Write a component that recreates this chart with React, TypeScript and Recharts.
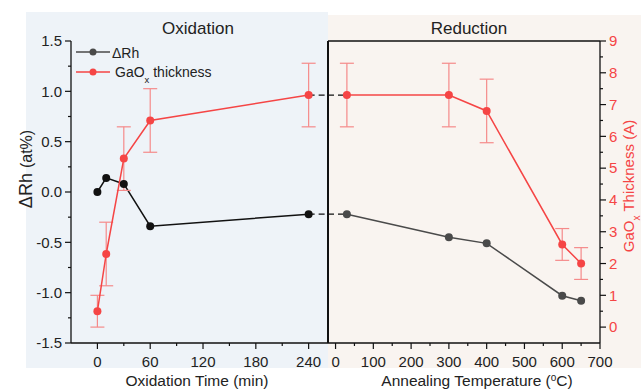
import React from 'react';
import { ComposedChart, Line, XAxis, YAxis, ErrorBar, ReferenceLine } from 'recharts';

// oxidation series (left panel)
const oxTime = [0, 10, 30, 60, 240];
const oxRh = [0.0, 0.14, 0.08, -0.34, -0.22];
const oxThick = [0.5, 2.3, 5.3, 6.5, 7.3];
const oxThickErr = [0.5, 1.0, 1.0, 1.0, 1.0];

// reduction series (right panel)
const anTemp = [30, 300, 400, 600, 650];
const anRh = [-0.22, -0.45, -0.51, -1.03, -1.08];
const anThick = [7.3, 7.3, 6.8, 2.6, 2.0];
const anThickErr = [1.0, 1.0, 1.0, 0.5, 0.5];

// ticks
const oxTicks = [0, 60, 120, 180, 240];
const oxMinor = [30, 90, 150, 210];
const anTicks = [0, 100, 200, 300, 400, 500, 600, 700];
const anMinor = [50, 150, 250, 350, 450, 550, 650];
const rhTicks = [-1.5, -1.0, -0.5, 0.0, 0.5, 1.0, 1.5];
const rhMinor = [-1.25, -0.75, -0.25, 0.25, 0.75, 1.25];
const thTicks = [0, 1, 2, 3, 4, 5, 6, 7, 8, 9];
const thMinor = [0.5, 1.5, 2.5, 3.5, 4.5, 5.5, 6.5, 7.5, 8.5];

const FONT = '"Liberation Sans", Arial, sans-serif';
const RED = '#f54545';
const RED_ERR = '#f58a8a';
const TS = 6;
const XTM = 7;
const YTM = 3;

const oxData = oxTime.map((t, i) => ({ t, rh: oxRh[i], th: oxThick[i], err: oxThickErr[i] }));
const anData = anTemp.map((t, i) => ({ t, rh: anRh[i], th: anThick[i], err: anThickErr[i] }));

function makeXTick(majors: number[]) {
  return (props: any) => {
    const { x, y, payload } = props;
    const major = majors.includes(payload.value);
    const y0 = y - TS - XTM;
    return (
      <g>
        <line x1={x} x2={x} y1={y0} y2={y0 + (major ? TS : 3)} stroke="#111" strokeWidth={1.2} />
        {major && (
          <text x={x} y={y} dy="0.71em" textAnchor="middle" fontSize={15} fill="#222" fontFamily={FONT}>
            {payload.value}
          </text>
        )}
      </g>
    );
  };
}

function makeYTickLeft(majors: number[]) {
  return (props: any) => {
    const { x, y, payload } = props;
    const major = majors.includes(payload.value);
    const x0 = x + YTM + TS;
    return (
      <g>
        <line x1={x0} x2={x0 - (major ? TS : 3)} y1={y} y2={y} stroke="#111" strokeWidth={1.2} />
        {major && (
          <text x={x} y={y} dy="0.355em" textAnchor="end" fontSize={15} fill="#222" fontFamily={FONT}>
            {payload.value.toFixed(1)}
          </text>
        )}
      </g>
    );
  };
}

function makeYTickRight(majors: number[]) {
  return (props: any) => {
    const { x, y, payload } = props;
    const major = majors.includes(payload.value);
    const x0 = x - YTM - TS;
    return (
      <g>
        <line x1={x0} x2={x0 + (major ? TS : 3)} y1={y} y2={y} stroke="#111" strokeWidth={1.2} />
        {major && (
          <text x={x} y={y} dy="0.355em" textAnchor="start" fontSize={15} fill={RED} fontFamily={FONT}>
            {payload.value}
          </text>
        )}
      </g>
    );
  };
}

const axisLine = { stroke: '#111', strokeWidth: 1.3 };

function OxidationChart() {
  return (
    <ComposedChart width={330} height={390} data={oxData} margin={{ top: 41, right: 2, left: 0, bottom: 0 }}>
      <XAxis
        dataKey="t"
        type="number"
        domain={[-30, 262]}
        allowDataOverflow
        ticks={[...oxTicks, ...oxMinor]}
        interval={0}
        tick={makeXTick(oxTicks)}
        tickLine={false}
        tickSize={TS}
        tickMargin={XTM}
        height={47}
        axisLine={axisLine}
      />
      <YAxis
        yAxisId="l"
        type="number"
        domain={[-1.5, 1.5]}
        allowDataOverflow
        ticks={[...rhTicks, ...rhMinor]}
        interval={0}
        tick={makeYTickLeft(rhTicks)}
        tickLine={false}
        tickSize={TS}
        tickMargin={YTM}
        width={71}
        axisLine={axisLine}
      />
      <YAxis yAxisId="r" orientation="right" type="number" domain={[-0.5, 9]} allowDataOverflow hide />
      <ReferenceLine
        yAxisId="r"
        segment={[{ x: oxTime[4], y: oxThick[4] }, { x: 262, y: oxThick[4] }]}
        stroke="#111"
        strokeWidth={1.3}
        strokeDasharray="6 4"
      />
      <ReferenceLine
        yAxisId="l"
        segment={[{ x: oxTime[4], y: oxRh[4] }, { x: 262, y: oxRh[4] }]}
        stroke="#111"
        strokeWidth={1.3}
        strokeDasharray="6 4"
      />
      <Line
        yAxisId="l"
        dataKey="rh"
        stroke="#111"
        strokeWidth={1.5}
        dot={{ r: 4, fill: '#111', stroke: '#111', strokeWidth: 0 }}
        isAnimationActive={false}
      />
      <Line
        yAxisId="r"
        dataKey="th"
        stroke={RED}
        strokeWidth={1.5}
        dot={{ r: 4, fill: RED, stroke: RED, strokeWidth: 0 }}
        isAnimationActive={false}
      >
        <ErrorBar dataKey="err" width={7} stroke={RED_ERR} strokeWidth={1.2} direction="y" />
      </Line>
      <ReferenceLine yAxisId="l" x={262} stroke="#111" strokeWidth={2} />
    </ComposedChart>
  );
}

function ReductionChart() {
  return (
    <ComposedChart width={313} height={390} data={anData} margin={{ top: 41, right: 0, left: 0, bottom: 0 }}>
      <XAxis
        dataKey="t"
        type="number"
        domain={[-20, 700]}
        allowDataOverflow
        ticks={[...anTicks, ...anMinor]}
        interval={0}
        tick={makeXTick(anTicks)}
        tickLine={false}
        tickSize={TS}
        tickMargin={XTM}
        height={47}
        axisLine={axisLine}
      />
      <YAxis yAxisId="l" type="number" domain={[-1.5, 1.5]} allowDataOverflow hide />
      <YAxis
        yAxisId="r"
        orientation="right"
        type="number"
        domain={[-0.5, 9]}
        allowDataOverflow
        ticks={[...thTicks, ...thMinor]}
        interval={0}
        tick={makeYTickRight(thTicks)}
        tickLine={false}
        tickSize={TS}
        tickMargin={YTM}
        width={41}
        axisLine={axisLine}
      />
      <ReferenceLine yAxisId="r" y={9} stroke="#111" strokeWidth={1.3} />
      <ReferenceLine
        yAxisId="r"
        segment={[{ x: -20, y: anThick[0] }, { x: anTemp[0], y: anThick[0] }]}
        stroke="#111"
        strokeWidth={1.3}
        strokeDasharray="6 4"
      />
      <ReferenceLine
        yAxisId="l"
        segment={[{ x: -20, y: anRh[0] }, { x: anTemp[0], y: anRh[0] }]}
        stroke="#111"
        strokeWidth={1.3}
        strokeDasharray="6 4"
      />
      <Line
        yAxisId="l"
        dataKey="rh"
        stroke="#4a4a4a"
        strokeWidth={1.5}
        dot={{ r: 4, fill: '#4a4a4a', stroke: '#4a4a4a', strokeWidth: 0 }}
        isAnimationActive={false}
      />
      <Line
        yAxisId="r"
        dataKey="th"
        stroke={RED}
        strokeWidth={1.5}
        dot={{ r: 4, fill: RED, stroke: RED, strokeWidth: 0 }}
        isAnimationActive={false}
      >
        <ErrorBar dataKey="err" width={7} stroke={RED_ERR} strokeWidth={1.2} direction="y" />
      </Line>
    </ComposedChart>
  );
}

function Overlay() {
  return (
    <svg width={641} height={390} style={{ position: 'absolute', left: 0, top: 0, pointerEvents: 'none' }} fontFamily={FONT}>
      <text x={198} y={34} textAnchor="middle" fontSize={17} fill="#222">Oxidation</text>
      <text x={469} y={34} textAnchor="middle" fontSize={17} fill="#222">Reduction</text>

      <text x={197} y={386} textAnchor="middle" fontSize={15.5} fill="#222">Oxidation Time (min)</text>
      <text x={477} y={386} textAnchor="middle" fontSize={15.5} fill="#222">
        Annealing Temperature (<tspan baselineShift="super" fontSize={10}>o</tspan>C)
      </text>

      <text transform="translate(32,169) rotate(-90)" textAnchor="middle" fill="#222" fontSize={18}>
        ΔRh <tspan fontSize={16}>(at%)</tspan>
      </text>
      <text transform="translate(634,186) rotate(-90)" textAnchor="middle" fill={RED} fontSize={15}>
        GaO<tspan baselineShift="sub" fontSize={10}>x</tspan> Thickness (A)
      </text>

      {/* legend */}
      <line x1={76} x2={110} y1={52} y2={52} stroke="#4a4a4a" strokeWidth={1.5} />
      <circle cx={93} cy={52} r={3.5} fill="#4a4a4a" />
      <text x={112} y={58} fontSize={14} fill="#222">ΔRh</text>
      <line x1={76} x2={110} y1={72} y2={72} stroke={RED} strokeWidth={1.5} />
      <circle cx={93} cy={72} r={3.5} fill={RED} />
      <text x={115} y={77} fontSize={14} fill="#222">
        GaO<tspan baselineShift="sub" fontSize={9.5}>x</tspan> thickness
      </text>
    </svg>
  );
}

export default function App() {
  return (
    <div style={{ position: 'absolute', left: 0, top: 0, width: 641, height: 390, background: '#fff', fontFamily: FONT }}>
      <div style={{ position: 'absolute', left: 26, top: 12, width: 302, height: 356, background: '#eef3f8' }} />
      <div style={{ position: 'absolute', left: 328, top: 15, width: 313, height: 353, background: '#f9f4f0' }} />
      <div style={{ position: 'absolute', left: 0, top: 0 }}>
        <OxidationChart />
      </div>
      <div style={{ position: 'absolute', left: 328, top: 0 }}>
        <ReductionChart />
      </div>
      <Overlay />
    </div>
  );
}
